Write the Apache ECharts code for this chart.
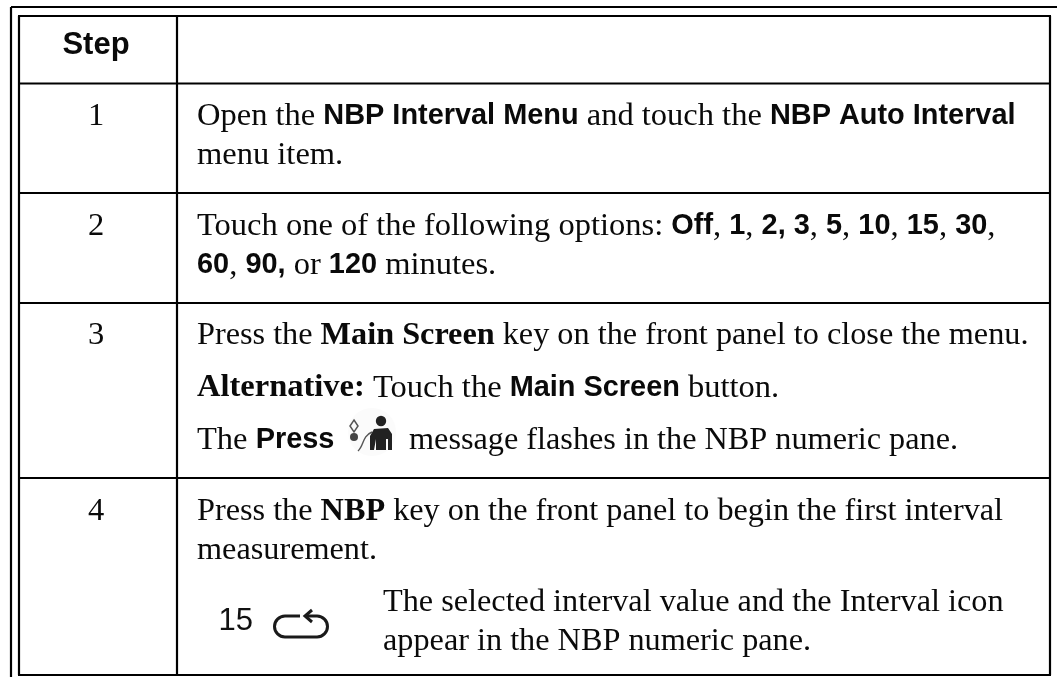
<!DOCTYPE html>
<html>
<head>
<meta charset="utf-8">
<title>NBP auto interval steps</title>
<style>
  html, body { margin: 0; padding: 0; background: #fff; }
  #main { width: 1057px; height: 677px; }
</style>
<script src="https://cdn.jsdelivr.net/npm/echarts@6/dist/echarts.min.js"></script>
</head>
<body>
<div id="main"></div>
<script>
// table content, {b|...} is the bold sans run, {n|...} the plain serif run, {s|...} bold serif
// {m|...} and {t|...} are the same serif runs a touch narrower, used in the lower rows
const headerLabel = "Step";
const stepNumbers = ["1", "2", "3", "4"];
const step1Lines = [
  "{n|Open the }{b|NBP Interval Menu}{n| and touch the }{b|NBP Auto Interval}",
  "{n|menu item.}"
];
const step2Lines = [
  "{n|Touch one of the following options: }{b|Off}{n|, }{b|1}{n|, }{b|2, 3}{n|, }{b|5}{n|, }{b|10}{n|, }{b|15}{n|, }{b|30}{n|,}",
  "{b|60}{n|, }{b|90,}{n| or }{b|120}{n| minutes.}"
];
const step3Lines = [
  "{m|Press the }{t|Main Screen}{m| key on the front panel to close the menu.}",
  "{s|Alternative:}{n| Touch the }{b|Main Screen}{n| button.}"
];
const step3IconLine = ["{n|The }{b|Press}", "{m|message flashes in the NBP numeric pane.}"];
const step4Lines = [
  "{m|Press the }{t|NBP}{m| key on the front panel to begin the first interval}",
  "{m|measurement.}"
];
const step4Note = [
  "{m|The selected interval value and the Interval icon}",
  "{m|appear in the NBP numeric pane.}"
];
const intervalValue = "15";

// layout, in page pixels
const tableLeft = 19, tableRight = 1050, tableTop = 16, tableBottom = 675, colSplit = 177;
const rowSplits = [83.5, 193, 303, 478];
const textX = 197, stepX = 96;
const ink = "#000";
const textInk = "#0a0a0a";

const rich = {
  n: { fontFamily: "Liberation Serif", fontSize: 32.5, fill: textInk },
  m: { fontFamily: "Liberation Serif", fontSize: 32.25, fill: textInk },
  s: { fontFamily: "Liberation Serif", fontSize: 32.5, fontWeight: "bold", fill: textInk },
  t: { fontFamily: "Liberation Serif", fontSize: 32.25, fontWeight: "bold", fill: textInk },
  b: { fontFamily: "Liberation Sans", fontSize: 28.9, fontWeight: "bold", fill: textInk }
};

function line(x1, y1, x2, y2) {
  return { type: "line", shape: { x1, y1, x2, y2 }, style: { stroke: ink, lineWidth: 2.2 }, silent: true };
}
function richText(text, x, y) {
  return { type: "text", x, y, silent: true, style: { text, rich, verticalAlign: "middle", align: "left" } };
}
function stepText(text, y) {
  return {
    type: "text", x: stepX, y, silent: true,
    style: { text, fontFamily: "Liberation Serif", fontSize: 32.5, fill: textInk, align: "center", verticalAlign: "middle" }
  };
}

const elements = [
  // outer frame runs off the right and bottom of the page
  line(11, 7, 1057, 7),
  line(11, 7, 11, 677),
  // table grid
  line(tableLeft - 1, tableTop, tableRight + 1, tableTop),
  line(tableLeft - 1, tableBottom, tableRight + 1, tableBottom),
  line(tableLeft, tableTop, tableLeft, tableBottom),
  line(tableRight, tableTop, tableRight, tableBottom),
  line(colSplit, tableTop, colSplit, tableBottom)
];
rowSplits.forEach(y => elements.push(line(tableLeft, y, tableRight, y)));

elements.push({
  type: "text", x: stepX, y: 45, silent: true,
  style: { text: headerLabel, fontFamily: "Liberation Sans", fontSize: 31, fontWeight: "bold", fill: textInk, align: "center", verticalAlign: "middle" }
});

[116, 226, 335, 511].forEach((y, i) => elements.push(stepText(stepNumbers[i], y)));

step1Lines.forEach((t, i) => elements.push(richText(t, textX, [116, 155][i])));
step2Lines.forEach((t, i) => elements.push(richText(t, textX, [226, 265][i])));
step3Lines.forEach((t, i) => elements.push(richText(t, textX, [336, 388][i])));
elements.push(richText(step3IconLine[0], textX, 440));
elements.push(richText(step3IconLine[1], 409, 441));
step4Lines.forEach((t, i) => elements.push(richText(t, textX, [512, 551][i])));
step4Note.forEach((t, i) => elements.push(richText(t, 383, [603, 642][i])));

// press-start icon: faint halo, person, cuff and tube
elements.push({
  type: "group", silent: true,
  children: [
    { type: "circle", shape: { cx: 372, cy: 432, r: 24 }, style: { fill: "#fbfbfb" } },
    { type: "circle", shape: { cx: 381, cy: 421, r: 5.2 }, style: { fill: "#222" } },
    { type: "polygon", shape: { points: [[370, 450], [370, 436], [374, 429], [388, 428], [392, 434], [392, 450], [388, 450], [388, 439], [386, 439], [386, 450], [376, 450], [376, 439], [374, 450]] }, style: { fill: "#222" } },
    { type: "polygon", shape: { points: [[354, 420], [358, 426], [354, 432], [350, 426]] }, style: { fill: "none", stroke: "#555", lineWidth: 1.5 } },
    { type: "circle", shape: { cx: 354, cy: 437, r: 4 }, style: { fill: "#444" } },
    { type: "bezierCurve", shape: { x1: 358, y1: 451, cpx1: 364, cpy1: 446, cpx2: 362, cpy2: 436, x2: 372, y2: 432 }, style: { fill: "none", stroke: "#555", lineWidth: 1.4 } }
  ]
});

// interval value and looping arrow icon
elements.push({
  type: "text", x: 218.5, y: 621.5, silent: true,
  style: { text: intervalValue, fontFamily: "Liberation Sans", fontSize: 31, fill: "#111", align: "left", verticalAlign: "middle" }
});
const loopStyle = { fill: "none", stroke: "#1a1a1a", lineWidth: 3 };
elements.push({
  type: "group", silent: true,
  children: [
    { type: "line", shape: { x1: 285, y1: 616, x2: 300, y2: 616 }, style: loopStyle },
    { type: "line", shape: { x1: 285, y1: 637, x2: 317, y2: 637 }, style: loopStyle },
    { type: "line", shape: { x1: 305, y1: 616, x2: 317, y2: 616 }, style: loopStyle },
    { type: "arc", shape: { cx: 285, cy: 626.5, r: 10.5, startAngle: Math.PI / 2, endAngle: Math.PI * 1.5, clockwise: true }, style: loopStyle },
    { type: "arc", shape: { cx: 317, cy: 626.5, r: 10.5, startAngle: -Math.PI / 2, endAngle: Math.PI / 2, clockwise: true }, style: loopStyle },
    { type: "polyline", shape: { points: [[312, 610], [305, 616], [312, 622]] }, style: loopStyle }
  ]
});

const chart = echarts.init(document.getElementById("main"), null, { renderer: "canvas" });
chart.setOption({
  animation: false,
  backgroundColor: "#fff",
  graphic: { elements }
});
</script>
</body>
</html>
